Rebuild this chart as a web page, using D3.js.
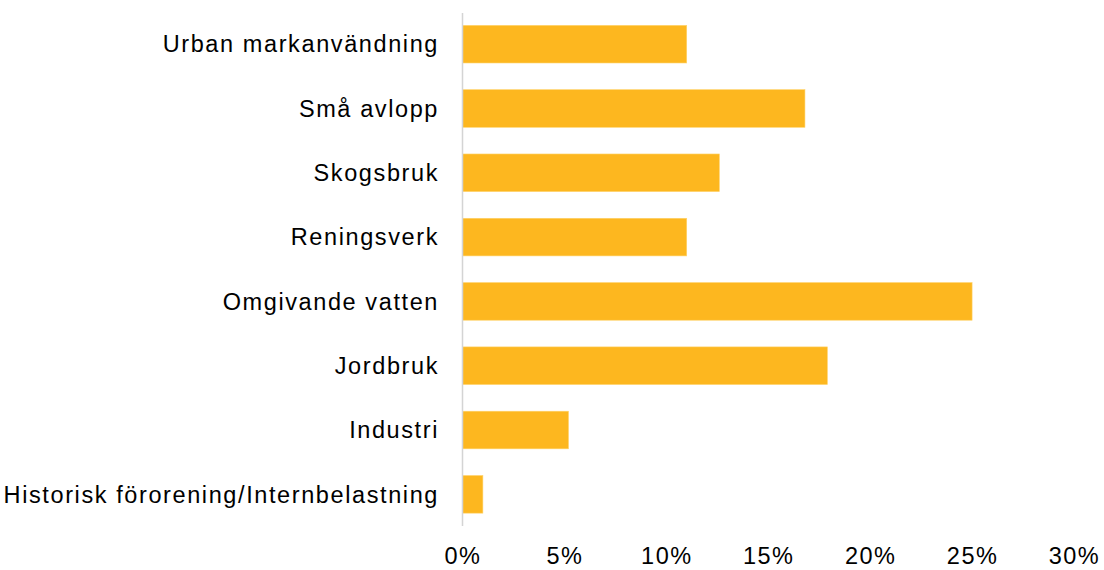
<!DOCTYPE html>
<html>
<head>
<meta charset="utf-8">
<script src="https://cdn.jsdelivr.net/npm/d3@7"></script>
<style>
  body { margin: 0; background: #fff; }
  svg text { font-family: "Liberation Sans", Arial, sans-serif; fill: #000; }
</style>
</head>
<body>
<svg id="chart" width="1104" height="570"></svg>
<script>
'use strict';

const categories = [
  'Urban markanvändning',
  'Små avlopp',
  'Skogsbruk',
  'Reningsverk',
  'Omgivande vatten',
  'Jordbruk',
  'Industri',
  'Historisk förorening/Internbelastning'
];
const shares = [11.0, 16.8, 12.6, 11.0, 25.0, 17.9, 5.2, 1.0];
const xTicks = [0, 5, 10, 15, 20, 25, 30];

const svg = d3.select('#chart');

// Scales
const x = d3.scaleLinear()
  .domain([0, 30])
  .range([462.5, 1074]);

const y = d3.scaleBand()
  .domain(categories)
  .range([12.5, 526])
  .paddingInner(0.415)
  .paddingOuter(0.2);

// Bars
svg.append('g')
  .selectAll('rect')
  .data(categories)
  .join('rect')
    .attr('x', x(0))
    .attr('y', d => y(d))
    .attr('width', (d, i) => x(shares[i]) - x(0))
    .attr('height', y.bandwidth())
    .attr('fill', '#FDB71F')
    .attr('stroke', '#FFD36B')
    .attr('stroke-width', 0.6);

// Vertical axis line
svg.append('line')
  .attr('x1', x(0)).attr('x2', x(0))
  .attr('y1', 13).attr('y2', 526)
  .attr('stroke', '#D4D4D4')
  .attr('stroke-width', 1.5);

// Category labels
svg.append('g')
  .selectAll('text')
  .data(categories)
  .join('text')
    .attr('x', 439)
    .attr('y', d => y(d) + y.bandwidth() / 2)
    .attr('dy', '0.35em')
    .attr('text-anchor', 'end')
    .style('font-size', '23.5px')
    .style('letter-spacing', '1.6px')
    .text(d => d);

// X axis
const xAxis = d3.axisBottom(x)
  .tickValues(xTicks)
  .tickFormat(d => d + '%')
  .tickSize(0)
  .tickPadding(0);

svg.append('g')
  .attr('transform', 'translate(0, 547)')
  .call(xAxis)
  .call(g => g.select('.domain').remove())
  .call(g => g.selectAll('text')
    .style('font-size', '23.5px')
    .style('letter-spacing', '1.5px')
    .style('font-family', '"Liberation Sans", Arial, sans-serif')
    .attr('fill', '#000'));
</script>
</body>
</html>
